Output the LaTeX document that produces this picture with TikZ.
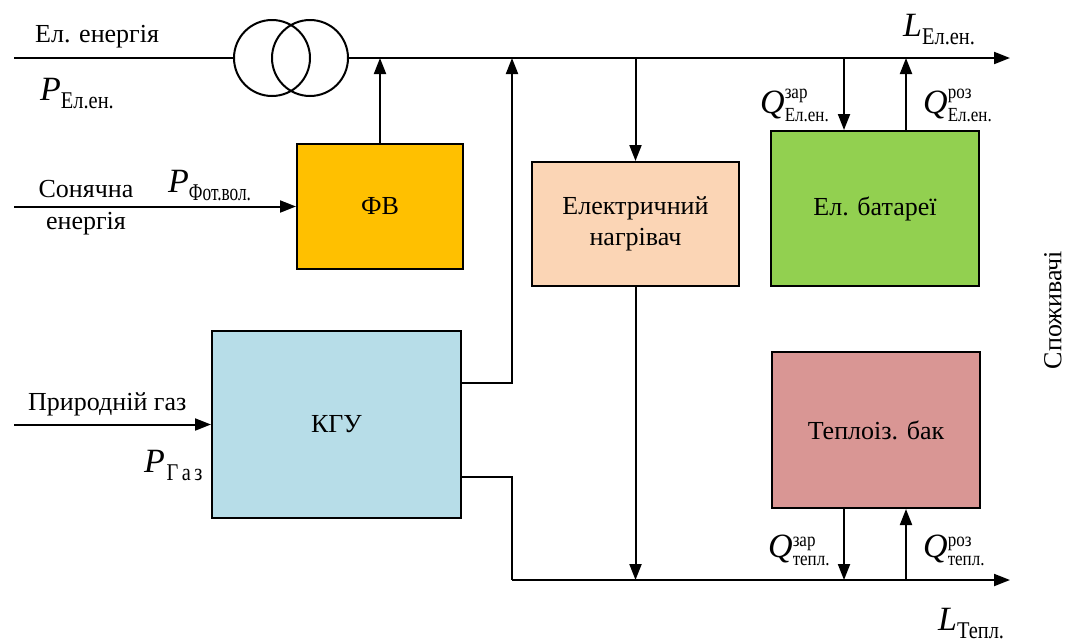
\documentclass[tikz,border=0pt]{standalone}
\usepackage{fontspec}
\setmainfont{Liberation Serif}
\usetikzlibrary{arrows.meta}
\definecolor{cfv}{HTML}{FFC000}
\definecolor{ckgu}{HTML}{B7DDE8}
\definecolor{cheat}{HTML}{FBD5B5}
\definecolor{cbatt}{HTML}{92D050}
\definecolor{ctank}{HTML}{D99694}
\newcommand{\bigsym}[1]{{\fontsize{34}{34}\selectfont\itshape #1}}
\newcommand{\subtxt}[1]{\raisebox{-8pt}{\scalebox{0.85}[1]{\fontsize{24}{24}\selectfont #1}}}
\newcommand{\supsub}[2]{\raisebox{-8pt}{\scalebox{0.85}[1]{\fontsize{20}{20}\selectfont\shortstack[l]{#1\\[2pt]#2}}}}
\tikzset{
  blk/.style={draw, line width=2pt, rectangle, inner sep=0pt, align=center, font=\fontsize{26}{31}\selectfont},
  conn/.style={line width=2pt},
  arr/.style={line width=2pt, -{Triangle[length=16pt,width=12pt]}},
  lbl/.style={inner sep=0pt, font=\fontsize{26}{31}\selectfont},
  sym/.style={inner sep=0pt, anchor=base west}
}
\begin{document}
\begin{tikzpicture}[x=1pt,y=-1pt]
\useasboundingbox (0,0) rectangle (1073,643);
% transformer
\node[draw, line width=2pt, circle, minimum size=76pt, inner sep=0pt] (t1) at (272,58) {};
\node[draw, line width=2pt, circle, minimum size=76pt, inner sep=0pt] (t2) at (310,58) {};
% blocks
\node[blk, fill=cfv, minimum width=166pt, minimum height=125pt] (fv) at (380,206.5) {ФВ};
\node[blk, fill=ckgu, minimum width=249pt, minimum height=187pt] (kgu) at (336.5,424.5) {КГУ};
\node[blk, fill=cheat, minimum width=207pt, minimum height=124pt] (heat) at (635.5,224) {Електричний\\нагрівач};
\node[blk, fill=cbatt, minimum width=208pt, minimum height=155pt] (batt) at (875,208.5) {Ел. батареї};
\node[blk, fill=ctank, minimum width=208pt, minimum height=156pt] (tank) at (876,430) {Теплоіз. бак};
% coordinates
\coordinate (elin) at (14,58);
\coordinate (elout) at (1010,58);
\coordinate (solin) at (14,206.5);
\coordinate (gasin) at (14,424.5);
\coordinate (kgo1) at (461,383);
\coordinate (kgc1) at (512,383);
\coordinate (kgo2) at (461,477);
\coordinate (kgc2) at (512,477);
\coordinate (hbus) at (512,580);
\coordinate (hout) at (1010,580);
\coordinate (bd) at (batt.north -| 844,0);
\coordinate (bu) at (batt.north -| 906,0);
\coordinate (td) at (tank.south -| 844,0);
\coordinate (tu) at (tank.south -| 906,0);
% connectors
\draw[conn] (elin) -- (t1.west);
\draw[arr] (t2.east) -- (elout);
\draw[arr] (solin) -- (fv.west);
\draw[arr] (fv.north) -- (fv.north |- elout);
\draw[arr] (gasin) -- (kgu.west);
\draw[arr] (kgo1) -- (kgc1) -- (kgc1 |- elout);
\draw[conn] (kgo2) -- (kgc2) -- (hbus);
\draw[arr] (hbus) -- (hout);
\draw[arr] (heat.north |- elout) -- (heat.north);
\draw[arr] (heat.south) -- (heat.south |- hbus);
\draw[arr] (bd |- elout) -- (bd);
\draw[arr] (bu) -- (bu |- elout);
\draw[arr] (td) -- (td |- hbus);
\draw[arr] (tu |- hbus) -- (tu);
% labels
\node[lbl, anchor=base west] (lel) at (35,42) {Ел. енергія};
\node[sym] (pel) at (40,100) {\bigsym{P}\subtxt{Ел.ен.}};
\node[lbl, anchor=base] (lsol1) at (86,197) {Сонячна};
\node[lbl, anchor=base] (lsol2) at (86,229) {енергія};
\node[sym] (pfv) at (168,192) {\bigsym{P}\raisebox{-8pt}{\scalebox{0.72}[1]{\fontsize{24}{24}\selectfont Фот.вол.}}};
\node[lbl, anchor=base west] (lgas) at (28,410) {Природній газ};
\node[sym] (pgas) at (144,472) {\bigsym{P}\,\subtxt{Г\,а\,з}};
\node[sym] (lelout) at (903,36) {\bigsym{L}\subtxt{Ел.ен.}};
\node[sym] (qez) at (760,113) {\bigsym{Q}\supsub{зар}{Ел.ен.}};
\node[sym] (qer) at (923,113) {\bigsym{Q}\supsub{роз}{Ел.ен.}};
\node[sym] (qtz) at (768,557) {\bigsym{Q}\supsub{зар}{тепл.}};
\node[sym] (qtr) at (923,557) {\bigsym{Q}\supsub{роз}{тепл.}};
\node[sym] (lt) at (938,630) {\bigsym{L}\subtxt{Тепл.}};
\node[lbl, rotate=90] (cons) at (1053,310) {Споживачі};
\end{tikzpicture}
\end{document}
